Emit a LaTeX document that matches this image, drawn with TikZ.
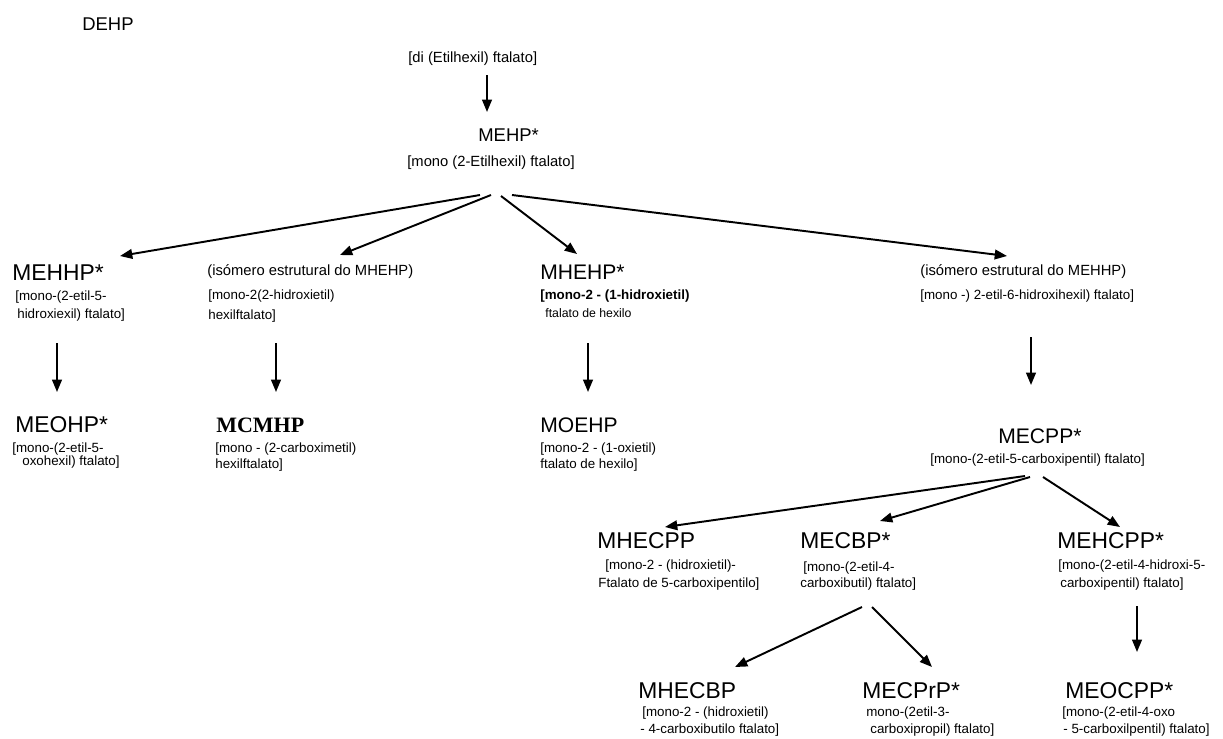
\documentclass[tikz,border=0pt]{standalone}
\usepackage{fontspec}
\setmainfont{Liberation Sans}
\newfontfamily\timesfont{Liberation Serif}
\usetikzlibrary{arrows.meta}

\begin{document}
\begin{tikzpicture}[x=0.02cm, y=-0.02cm,
  every node/.style={anchor=west, inner sep=0pt},
  ttl/.style={font=\fontsize{13}{15}\selectfont},
  mttl/.style={font=\fontsize{12}{14}\selectfont},
  hdr/.style={font=\fontsize{8.4}{10}\selectfont},
  lbl/.style={font=\fontsize{7.6}{9}\selectfont},
  slbl/.style={font=\fontsize{7}{8}\selectfont},
  arr/.style={->, >={Triangle[length=7pt, width=5.5pt]}, line width=1.1pt}
]
\useasboundingbox (0,0) rectangle (1223,738);

% Parent compound
\node[font=\fontsize{10.5}{12}\selectfont] (dehp) at (82, 24) {DEHP};
\node[hdr] (di) at (408, 59) {[di (Etilhexil) ftalato]};

\node[font=\fontsize{10.5}{12}\selectfont] (mehp) at (478, 135) {MEHP*};
\node[hdr] (mehpsub) at (407, 163) {[mono (2-Etilhexil) ftalato]};

% Second row
\node[ttl] (mehhp) at (12, 273) {MEHHP*};
\node[lbl] (mehhpA) at (15, 297) {[mono-(2-etil-5-};
\node[lbl] (mehhpB) at (17, 315) {hidroxiexil) ftalato]};

\node[hdr] (isoA) at (207, 272) {(isómero estrutural do MHEHP)};
\node[lbl] (isoAa) at (208, 296) {[mono-2(2-hidroxietil)};
\node[lbl] (isoAb) at (208, 316) {hexilftalato]};

\node[mttl] (mhehp) at (540, 272) {MHEHP*};
\node[lbl, font=\fontsize{7.6}{9}\selectfont\bfseries] (mhehpA) at (540, 296) {[mono-2 - (1-hidroxietil)};
\node[slbl] (mhehpB) at (545, 313) {ftalato de hexilo};

\node[hdr] (isoB) at (920, 272) {(isómero estrutural do MEHHP)};
\node[lbl] (isoBa) at (920, 296) {[mono -) 2-etil-6-hidroxihexil) ftalato]};

% Third row
\node[ttl] (meohp) at (15, 425) {MEOHP*};
\node[lbl] (meohpA) at (12, 449) {[mono-(2-etil-5-};
\node[lbl] (meohpB) at (22, 462) {oxohexil) ftalato]};

\node[font=\fontsize{12.5}{14}\selectfont\timesfont\bfseries] (mcmhp) at (216, 425) {MCMHP};
\node[lbl] (mcmhpA) at (215, 449) {[mono - (2-carboximetil)};
\node[lbl] (mcmhpB) at (215, 465) {hexilftalato]};

\node[mttl] (moehp) at (540, 425) {MOEHP};
\node[lbl] (moehpA) at (540, 449) {[mono-2 - (1-oxietil)};
\node[lbl] (moehpB) at (540, 465) {ftalato de hexilo]};

\node[mttl] (mecpp) at (998, 436) {MECPP*};
\node[lbl] (mecppsub) at (930, 460) {[mono-(2-etil-5-carboxipentil) ftalato]};

% Fourth row
\node[ttl] (mhecpp) at (597, 541) {MHECPP};
\node[lbl] (mhecppA) at (605, 566) {[mono-2 - (hidroxietil)-};
\node[lbl] (mhecppB) at (598, 584) {Ftalato de 5-carboxipentilo]};

\node[ttl] (mecbp) at (800, 541) {MECBP*};
\node[lbl] (mecbpA) at (803, 568) {[mono-(2-etil-4-};
\node[lbl] (mecbpB) at (800, 584) {carboxibutil) ftalato]};

\node[ttl] (mehcpp) at (1057, 541) {MEHCPP*};
\node[lbl] (mehcppA) at (1058, 566) {[mono-(2-etil-4-hidroxi-5-};
\node[lbl] (mehcppB) at (1060, 584) {carboxipentil) ftalato]};

% Fifth row
\node[ttl] (mhecbp) at (638, 691) {MHECBP};
\node[lbl] (mhecbpA) at (642, 713) {[mono-2 - (hidroxietil)};
\node[lbl] (mhecbpB) at (640, 730) {- 4-carboxibutilo ftalato]};

\node[ttl] (mecprp) at (862, 691) {MECPrP*};
\node[lbl] (mecprpA) at (866, 713) {mono-(2etil-3-};
\node[lbl] (mecprpB) at (870, 730) {carboxipropil) ftalato]};

\node[ttl] (meocpp) at (1065, 691) {MEOCPP*};
\node[lbl] (meocppA) at (1062, 713) {[mono-(2-etil-4-oxo};
\node[lbl] (meocppB) at (1063, 730) {- 5-carboxilpentil) ftalato]};

% DEHP -> MEHP
\draw[arr] ([shift={(79,16)}]di.west) -- ([shift={(9,-23)}]mehp.west);

% MEHP branches
\draw[arr] ([shift={(73,32)}]mehpsub.west) -- ([shift={(108,-17)}]mehhp.west);
\draw[arr] ([shift={(84,32)}]mehpsub.west) -- ([shift={(133,-17)}]isoA.west);
\draw[arr] ([shift={(94,33)}]mehpsub.west) -- ([shift={(37,-18)}]mhehp.west);
\draw[arr] ([shift={(105,32)}]mehpsub.west) -- ([shift={(87,-16)}]isoB.west);

% Oxidation steps
\draw[arr] ([shift={(40,28)}]mehhpB.west) -- ([shift={(42,-33)}]meohp.west);
\draw[arr] ([shift={(68,27)}]isoAb.west) -- ([shift={(60,-33)}]mcmhp.west);
\draw[arr] ([shift={(43,30)}]mhehpB.west) -- ([shift={(48,-33)}]moehp.west);
\draw[arr] ([shift={(111,41)}]isoBa.west) -- ([shift={(33,-51)}]mecpp.west);

% MECPP branches
\draw[arr] ([shift={(95,16)}]mecppsub.west) -- ([shift={(68,-14)}]mhecpp.west);
\draw[arr] ([shift={(100,17)}]mecppsub.west) -- ([shift={(80,-20)}]mecbp.west);
\draw[arr] ([shift={(113,17)}]mecppsub.west) -- ([shift={(63,-14)}]mehcpp.west);

% MECBP branches
\draw[arr] ([shift={(62,23)}]mecbpB.west) -- ([shift={(97,-24)}]mhecbp.west);
\draw[arr] ([shift={(72,23)}]mecbpB.west) -- ([shift={(70,-24)}]mecprp.west);
\draw[arr] ([shift={(77,22)}]mehcppB.west) -- ([shift={(72,-39)}]meocpp.west);

\end{tikzpicture}
\end{document}
